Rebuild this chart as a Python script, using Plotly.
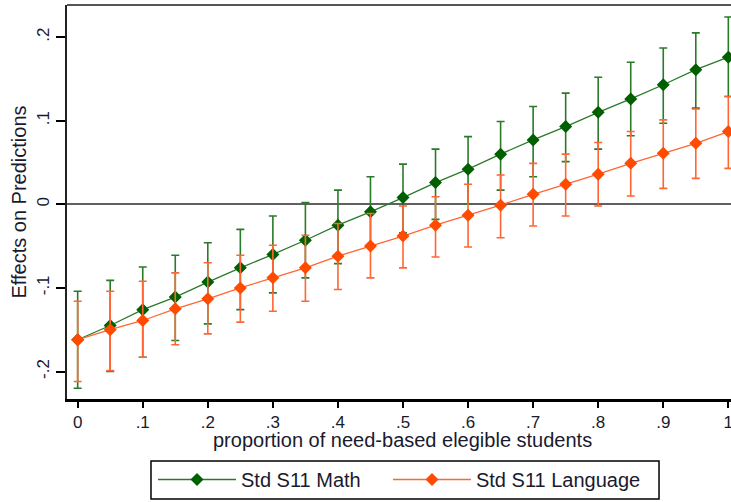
import plotly.graph_objects as go

x_vals = [0, 0.05, 0.1, 0.15, 0.2, 0.25, 0.3, 0.35, 0.4, 0.45, 0.5,
          0.55, 0.6, 0.65, 0.7, 0.75, 0.8, 0.85, 0.9, 0.95, 1.0]

math_est = [-0.162, -0.145, -0.126, -0.111, -0.093, -0.076, -0.060, -0.043, -0.025, -0.009, 0.008,
            0.026, 0.042, 0.060, 0.077, 0.093, 0.110, 0.126, 0.143, 0.161, 0.176]
math_hi = [-0.104, -0.091, -0.075, -0.061, -0.046, -0.030, -0.014, 0.002, 0.017, 0.033, 0.048,
           0.066, 0.081, 0.099, 0.117, 0.133, 0.152, 0.170, 0.187, 0.205, 0.224]
math_lo = [-0.220, -0.200, -0.183, -0.163, -0.143, -0.126, -0.106, -0.088, -0.071, -0.051, -0.034,
           -0.018, 0.000, 0.017, 0.033, 0.051, 0.066, 0.082, 0.097, 0.115, 0.129]

lang_est = [-0.162, -0.150, -0.139, -0.125, -0.113, -0.100, -0.088, -0.076, -0.062, -0.050, -0.038,
            -0.025, -0.013, -0.001, 0.012, 0.024, 0.036, 0.049, 0.061, 0.073, 0.087]
lang_hi = [-0.116, -0.104, -0.092, -0.082, -0.070, -0.061, -0.049, -0.037, -0.023, -0.011, -0.002,
           0.009, 0.024, 0.035, 0.049, 0.060, 0.074, 0.087, 0.101, 0.114, 0.129]
lang_lo = [-0.212, -0.199, -0.183, -0.168, -0.155, -0.141, -0.128, -0.116, -0.102, -0.088, -0.076,
           -0.063, -0.051, -0.040, -0.026, -0.014, -0.002, 0.010, 0.019, 0.031, 0.043]

x_tickvals = [0, 0.1, 0.2, 0.3, 0.4, 0.5, 0.6, 0.7, 0.8, 0.9, 1.0]
x_ticktext = ["0", ".1", ".2", ".3", ".4", ".5", ".6", ".7", ".8", ".9", "1"]
y_tickvals = [-0.2, -0.1, 0, 0.1, 0.2]
y_ticktext = ["-.2", "-.1", "0", ".1", ".2"]

FONT = "Liberation Sans, Arial, sans-serif"
TXT = "#1a1a2e"


def series(name, est, hi, lo, line_col, mark_col, legend_id):
    plus = [h - e for h, e in zip(hi, est)]
    minus = [e - l for e, l in zip(est, lo)]
    return go.Scatter(
        x=x_vals, y=est, name=name, mode="lines+markers", legend=legend_id,
        line=dict(color=line_col, width=1.3),
        marker=dict(symbol="diamond", size=10, color=mark_col),
        error_y=dict(type="data", symmetric=False, array=plus, arrayminus=minus,
                     color=line_col, thickness=1.6, width=4),
    )


fig = go.Figure()
fig.add_trace(series("Std S11 Math", math_est, math_hi, math_lo, "#2a7a2a", "#006000", "legend"))
fig.add_trace(series("Std S11 Language", lang_est, lang_hi, lang_lo, "#ff6633", "#ff4a00", "legend2"))

leg_common = dict(orientation="h", y=-0.1548, xanchor="left", yanchor="top",
                  borderwidth=0, bgcolor="rgba(0,0,0,0)",
                  font=dict(family=FONT, size=20, color=TXT), itemwidth=78)

fig.update_layout(
    width=731, height=502,
    margin=dict(l=67, r=0, t=5, b=103, autoexpand=False),
    paper_bgcolor="white", plot_bgcolor="white",
    font=dict(family=FONT, color=TXT, size=17),
    showlegend=True,
    legend=dict(x=0.1295, **leg_common),
    legend2=dict(x=0.4834, **leg_common),
    xaxis=dict(
        range=[-0.0164, 1.0041], tickvals=x_tickvals, ticktext=x_ticktext,
        showgrid=False, zeroline=False,
        showline=True, linecolor="#000000", linewidth=2.5,
        ticks="outside", ticklen=6, tickwidth=1.5, tickcolor="#000000",
        tickfont=dict(size=17, family=FONT, color=TXT),
        ticklabeloverflow="allow",
    ),
    yaxis=dict(
        range=[-0.2329, 0.2384], tickvals=y_tickvals, ticktext=y_ticktext,
        showgrid=False,
        zeroline=True, zerolinecolor="#606060", zerolinewidth=1.5,
        showline=True, linecolor="#222222", linewidth=2,
        ticks="outside", ticklen=9, tickwidth=1.5, tickcolor="#000000",
        tickangle=-90,
        tickfont=dict(size=17, family=FONT, color=TXT),
        title=dict(text="Effects on Predictions", font=dict(size=20, family=FONT, color=TXT), standoff=2),
    ),
    shapes=[
        dict(type="line", xref="paper", yref="paper", x0=0, x1=1, y0=1, y1=1,
             line=dict(color="#555555", width=2)),
        dict(type="rect", xref="paper", yref="paper", x0=0.1265, x1=0.8916, y0=-0.2538, y1=-0.1574,
             line=dict(color="#000000", width=1.5), fillcolor="rgba(0,0,0,0)"),
    ],
    annotations=[dict(text="proportion of need-based elegible students", xref="paper", yref="paper",
                      x=0.506, y=-0.103, xanchor="center", yanchor="middle", showarrow=False,
                      font=dict(size=20, family=FONT, color=TXT))],
)

fig.write_html("out.html")
